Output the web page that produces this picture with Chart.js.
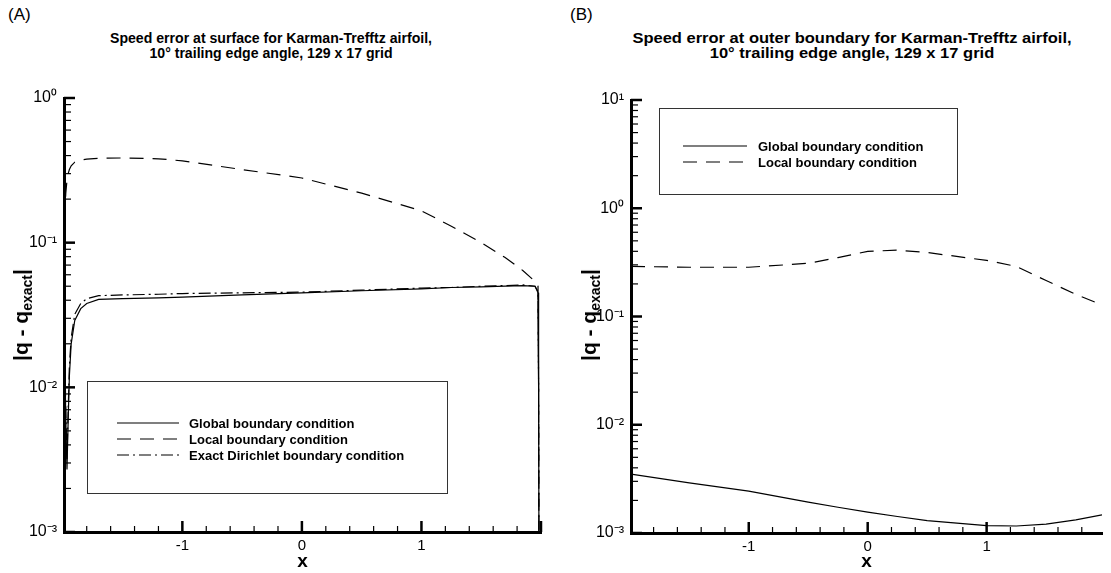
<!DOCTYPE html>
<html>
<head>
<meta charset="utf-8">
<script src="https://cdn.jsdelivr.net/npm/chart.js@4.4.1/dist/chart.umd.min.js"></script>
<style>
  body { margin: 0; background: #fff; width: 1111px; height: 573px; position: relative; overflow: hidden;
         font-family: "Liberation Sans", Arial, sans-serif; color: #000; }
  canvas { position: absolute; top: 0; }
  .tag { position: absolute; top: 5px; font-size: 17px; }
  .ttl { position: absolute; top: 30px; font-weight: bold; font-size: 15px; line-height: 15px;
         text-align: center; white-space: nowrap; }
  .ylab { position: absolute; top: 315px; font-weight: bold; font-size: 21px; white-space: nowrap;
          transform: translate(-50%, -50%) rotate(-90deg); }
  .ylab sub { font-size: 14px; vertical-align: -4px; }
</style>
</head>
<body>
<div class="tag" style="left:8px">(A)</div>
<div class="tag" style="left:570px">(B)</div>
<div class="ttl" style="left:271px; transform: translateX(-50%) scaleX(0.94)">Speed error at surface for Karman-Trefftz airfoil,<br>10° trailing edge angle, 129 x 17 grid</div>
<div class="ttl" style="left:852px; transform: translateX(-50%) scaleX(1.1)">Speed error at outer boundary for Karman-Trefftz airfoil,<br>10° trailing edge angle, 129 x 17 grid</div>
<canvas id="surface" width="556" height="573" style="left:0"></canvas>
<canvas id="outer" width="555" height="573" style="left:556px"></canvas>
<div class="ylab" style="left:22px">|q - q<sub>exact</sub>|</div>
<div class="ylab" style="left:590px">|q - q<sub>exact</sub>|</div>

<script>
// surface speed error, x along the chord
const surfX = [-1.99, -1.985, -1.975, -1.965, -1.955, -1.945, -1.93, -1.9, -1.85, -1.8, -1.7, -1.5, -1.2,
               -1, -0.5, 0, 0.5, 1, 1.25, 1.5, 1.7, 1.85, 1.95, 1.975, 1.98, 1.985];
const surfGlobal = [0.03, 0.02, 0.006, 0.0027, 0.006, 0.012, 0.02, 0.029, 0.035, 0.038, 0.0405, 0.041, 0.0415,
                    0.042, 0.0435, 0.045, 0.0465, 0.048, 0.049, 0.0495, 0.05, 0.0505, 0.05, 0.045, 0.01, 0.0001];
const surfLocal = [0.1, 0.15, 0.22, 0.27, 0.3, 0.32, 0.34, 0.36, 0.372, 0.378, 0.383, 0.385, 0.38,
                   0.368, 0.32, 0.28, 0.22, 0.166, 0.13, 0.1, 0.079, 0.064, 0.054, 0.05, 0.01, 0.0001];
const surfExact = [0.03, 0.02, 0.007, 0.0032, 0.007, 0.014, 0.022, 0.032, 0.038, 0.041, 0.043, 0.0435, 0.044,
                   0.0445, 0.045, 0.0455, 0.047, 0.0485, 0.049, 0.05, 0.0505, 0.051, 0.05, 0.046, 0.01, 0.0001];

// outer boundary speed error
const outerX = [-1.99, -1.5, -1, -0.5, -0.25, 0, 0.25, 0.5, 1, 1.25, 1.5, 1.75, 1.97];
const outerGlobal = [0.0035, 0.0029, 0.00244, 0.00193, 0.00173, 0.00156, 0.00142, 0.0013, 0.00117, 0.00116,
                     0.00121, 0.00132, 0.00147];
const outerLocal = [0.29, 0.285, 0.285, 0.31, 0.35, 0.4, 0.41, 0.39, 0.33, 0.29, 0.215, 0.16, 0.128];

const seriesNames = ['Global boundary condition', 'Local boundary condition', 'Exact Dirichlet boundary condition'];
const xTickValues = [-1, 0, 1];
const surfDecades = [1e-3, 1e-2, 1e-1, 1];
const outerDecades = [1e-3, 1e-2, 1e-1, 1, 10];

const dashes = [[], [14, 9], [12, 4, 2, 4]];

Chart.defaults.font.family = '"Liberation Sans", Arial, sans-serif';
Chart.defaults.color = '#000';

const sup = { '-': '\u207B', '0': '\u2070', '1': '\u00B9', '2': '\u00B2', '3': '\u00B3' };
function decadeLabel(v) {
  const e = Math.round(Math.log10(v));
  return '10' + String(e).split('').map(c => sup[c]).join('');
}

function pts(xs, ys) {
  return xs.map((x, i) => ({ x: x, y: ys[i] }));
}

// tecplot style ticks pointing into the plot
function inwardTicks(decades) {
  return {
    id: 'inwardTicks',
    afterDraw(chart) {
      const ctx = chart.ctx, a = chart.chartArea;
      const xs = chart.scales.x, ys = chart.scales.y;
      ctx.save();
      ctx.setLineDash([]);
      ctx.strokeStyle = '#000';
      for (let i = Math.ceil(xs.min * 5); i <= Math.floor(xs.max * 5); i++) {
        const px = xs.getPixelForValue(i / 5);
        const major = i % 5 === 0;
        ctx.lineWidth = major ? 2.5 : 1.2;
        ctx.beginPath();
        ctx.moveTo(px, a.bottom);
        ctx.lineTo(px, a.bottom - (major ? 11 : 6));
        ctx.stroke();
      }
      const top = decades[decades.length - 1];
      decades.forEach(d => {
        for (let k = 1; k <= 9 && k * d <= top * 1.0001; k++) {
          const py = ys.getPixelForValue(k * d);
          ctx.lineWidth = k === 1 ? 2.5 : 1.2;
          ctx.beginPath();
          ctx.moveTo(a.left, py);
          ctx.lineTo(a.left + (k === 1 ? 11 : 7), py);
          ctx.stroke();
        }
      });
      ctx.restore();
    }
  };
}

function boxLegend(box, lineX, lineW, textX, rowY, rowGap) {
  return {
    id: 'boxLegend',
    afterDraw(chart) {
      const ctx = chart.ctx;
      ctx.save();
      ctx.strokeStyle = '#333';
      ctx.lineWidth = 1;
      ctx.strokeRect(box.x + 0.5, box.y + 0.5, box.w, box.h);
      ctx.font = 'bold 13px "Liberation Sans", Arial, sans-serif';
      ctx.fillStyle = '#000';
      ctx.textBaseline = 'middle';
      chart.data.datasets.forEach((ds, i) => {
        const yy = rowY + i * rowGap;
        ctx.strokeStyle = '#000';
        ctx.lineWidth = 1.2;
        ctx.setLineDash(ds.borderDash);
        ctx.beginPath();
        ctx.moveTo(lineX, yy);
        ctx.lineTo(lineX + lineW, yy);
        ctx.stroke();
        ctx.setLineDash([]);
        ctx.fillText(ds.label, textX, yy + 1);
      });
      ctx.restore();
    }
  };
}

function makePanel(id, xs, values, decades, cfg) {
  return new Chart(document.getElementById(id), {
    type: 'line',
    data: {
      datasets: values.map((ys, i) => ({
        label: seriesNames[i],
        data: pts(xs, ys),
        borderColor: '#000',
        borderWidth: 1.2,
        borderDash: dashes[i],
        pointRadius: 0,
        tension: 0,
        fill: false
      }))
    },
    options: {
      responsive: false,
      animation: false,
      layout: { padding: cfg.padding },
      plugins: { legend: { display: false }, tooltip: { enabled: false } },
      scales: {
        x: {
          type: 'linear', min: cfg.xMin, max: cfg.xMax,
          grid: { display: false, drawTicks: false },
          border: { display: true, color: '#000', width: 3 },
          afterBuildTicks: s => { s.ticks = xTickValues.map(v => ({ value: v })); },
          ticks: { font: { size: 15 }, padding: 5, maxRotation: 0, autoSkip: false, callback: v => String(v) },
          title: { display: true, text: 'x', font: { size: 19, weight: 'bold' }, padding: 0 },
          afterFit: s => { s.height = cfg.xAxisH; }
        },
        y: {
          type: 'logarithmic', min: decades[0], max: decades[decades.length - 1],
          grid: { display: false, drawTicks: false },
          border: { display: true, color: '#000', width: 3 },
          afterBuildTicks: s => { s.ticks = decades.map(v => ({ value: v })); },
          ticks: { font: { size: 16 }, padding: 7, autoSkip: false, callback: v => decadeLabel(v) },
          afterFit: s => { s.width = cfg.yAxisW; }
        }
      }
    },
    plugins: [inwardTicks(decades), cfg.legend]
  });
}

makePanel('surface', surfX, [surfGlobal, surfLocal, surfExact], surfDecades, {
  padding: { top: 98, right: 15, left: 0, bottom: 0 },
  xMin: -1.99, xMax: 2.0, xAxisH: 41, yAxisW: 64,
  legend: boxLegend({ x: 87, y: 381, w: 360, h: 112 }, 117, 62, 189, 423, 16)
});

makePanel('outer', outerX, [outerGlobal, outerLocal], outerDecades, {
  padding: { top: 100, right: 9, left: 0, bottom: 0 },
  xMin: -1.99, xMax: 1.97, xAxisH: 40, yAxisW: 75,
  legend: boxLegend({ x: 103, y: 108, w: 298, h: 86 }, 127, 64, 202, 146, 16)
});
</script>
</body>
</html>
